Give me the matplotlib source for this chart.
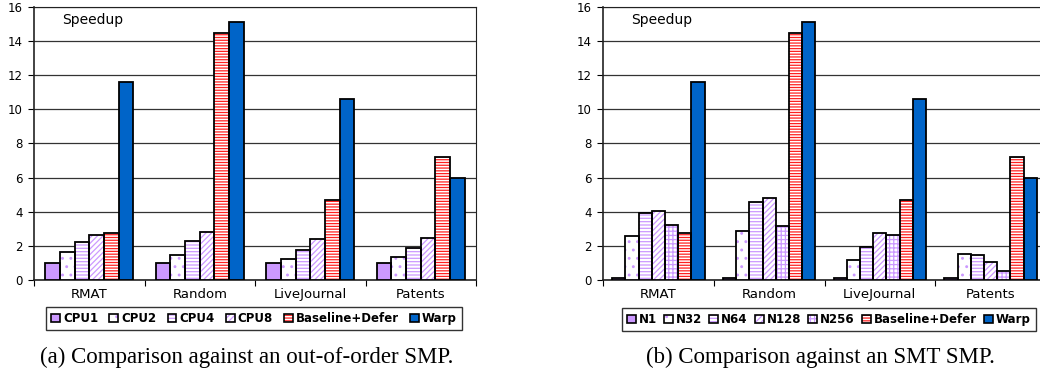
import numpy as np
import matplotlib
matplotlib.use("Agg")
import matplotlib.pyplot as plt
from matplotlib.patches import Patch

plt.rcParams['font.family'] = ['DejaVu Sans']
plt.rcParams['hatch.linewidth'] = 0.9

categories = ["RMAT", "Random", "LiveJournal", "Patents"]

# (a) out-of-order SMP
series_a = ["CPU1", "CPU2", "CPU4", "CPU8", "Baseline+Defer", "Warp"]
cpu1 = [1.0, 1.0, 1.0, 1.0]
cpu2 = [1.65, 1.48, 1.25, 1.35]
cpu4 = [2.25, 2.3, 1.75, 1.85]
cpu8 = [2.65, 2.8, 2.4, 2.45]
base_defer = [2.75, 14.5, 4.7, 7.2]
warp = [11.6, 15.1, 10.6, 5.95]

# (b) SMT SMP
series_b = ["N1", "N32", "N64", "N128", "N256", "Baseline+Defer", "Warp"]
n1 = [0.1, 0.1, 0.12, 0.12]
n32 = [2.6, 2.85, 1.2, 1.5]
n64 = [3.95, 4.6, 1.95, 1.45]
n128 = [4.05, 4.8, 2.75, 1.05]
n256 = [3.25, 3.15, 2.65, 0.55]

lav = "#cc99ff"
blue = "#0064c8"
red = "#ff2020"
# (fill, hatch, hatch colour)
st = {
    "solid": (lav, None, lav),
    "dots": ("white", "..", lav),
    "hstripe": ("white", "-----", lav),
    "diag": ("white", "//////", lav),
    "grid": ("white", "++++", lav),
    "red": ("white", "------", red),
    "warp": (blue, None, blue),
}
styles_a = ["solid", "dots", "hstripe", "diag", "red", "warp"]
styles_b = ["solid", "dots", "hstripe", "diag", "grid", "red", "warp"]


def panel(ax, data, names, styles, width):
    x = np.arange(len(categories))
    n = len(data)
    handles = []
    for i, (vals, name, s) in enumerate(zip(data, names, styles)):
        fc, h, hc = st[s]
        pos = x + (i - (n - 1) / 2) * width
        ax.bar(pos, vals, width, color=fc, hatch=h, edgecolor=hc, linewidth=0, zorder=3)
        ax.bar(pos, vals, width, fill=False, edgecolor="black", linewidth=1.3, zorder=4)
        handles.append((Patch(facecolor=fc, hatch=h, edgecolor=hc, linewidth=0),
                        Patch(fill=False, edgecolor="black", linewidth=1.2)))
    ax.set_ylim(0, 16)
    ax.set_xlim(-0.5, 3.5)
    ax.set_yticks(range(0, 17, 2))
    ax.yaxis.grid(True, color="#333333", linewidth=0.9, zorder=0)
    ax.set_xticks([-0.5, 0.5, 1.5, 2.5, 3.5])
    ax.set_xticklabels([])
    ax.set_xticks(x, minor=True)
    ax.set_xticklabels(categories, minor=True, fontsize=9.5)
    ax.tick_params(axis="x", which="minor", length=0, pad=6)
    ax.tick_params(axis="x", which="major", length=4, direction="out")
    ax.tick_params(axis="y", labelsize=8.5, length=4, pad=4)
    for sp in ax.spines.values():
        sp.set_color("#222222")
    ax.spines["left"].set_linewidth(1.2)
    ax.spines["bottom"].set_linewidth(1.2)
    ax.text(0.063, 0.952, "Speedup", transform=ax.transAxes, fontsize=10,
            va="center", ha="left")
    return handles


fig = plt.figure(figsize=(10.4, 3.73), dpi=100)
ax1 = fig.add_axes([34 / 1040, 1 - 280 / 373, 442 / 1040, 273 / 373])
ax2 = fig.add_axes([603 / 1040, 1 - 280 / 373, 443 / 1040, 273 / 373])

h1 = panel(ax1, [cpu1, cpu2, cpu4, cpu8, base_defer, warp], series_a, styles_a, 0.133)
h2 = panel(ax2, [n1, n32, n64, n128, n256, base_defer, warp], series_b, styles_b, 0.119)

leg_kw = dict(ncol=7, frameon=True, fancybox=False, edgecolor="black",
              prop={"weight": "bold", "size": 8.5}, handlelength=0.75, handleheight=0.75,
              handletextpad=0.25, borderpad=0.45, borderaxespad=0)
l1 = fig.legend(h1, series_a, loc="center left", bbox_to_anchor=(46 / 1040, 1 - 318.5 / 373),
                columnspacing=0.95, **leg_kw)
l2 = fig.legend(h2, series_b, loc="center left", bbox_to_anchor=(622 / 1040, 1 - 319.5 / 373),
                columnspacing=0.6, **leg_kw)
for l in (l1, l2):
    l.get_frame().set_linewidth(1.0)

fig.text(247 / 1040, 1 - 357 / 373, "(a) Comparison against an out-of-order SMP.",
         ha="center", va="center", fontsize=16.5, family="Liberation Serif")
fig.text(820 / 1040, 1 - 357 / 373, "(b) Comparison against an SMT SMP.",
         ha="center", va="center", fontsize=16.5, family="Liberation Serif")

fig.savefig("out.png", dpi=100)
